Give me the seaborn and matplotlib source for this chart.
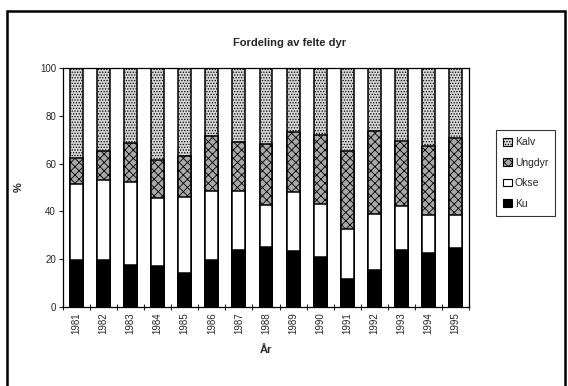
import matplotlib
matplotlib.use("Agg")
import matplotlib.pyplot as plt
import matplotlib.patches as mpatches
from matplotlib.ticker import FixedLocator
import seaborn as sns
import pandas as pd
import numpy as np

years = ["1981", "1982", "1983", "1984", "1985", "1986", "1987", "1988",
         "1989", "1990", "1991", "1992", "1993", "1994", "1995"]
ku = [19.5, 19.8, 17.5, 17.0, 14.2, 19.8, 23.7, 25.1, 23.4, 20.9, 11.7, 15.3, 23.7, 22.7, 24.7]
okse = [31.8, 33.5, 35.0, 28.5, 31.8, 28.7, 24.8, 17.4, 24.9, 22.0, 21.0, 23.7, 18.4, 15.6, 13.9]
ungdyr = [11.1, 11.9, 16.2, 16.2, 17.1, 22.9, 20.7, 25.6, 25.1, 29.2, 32.5, 34.8, 27.5, 29.0, 32.3]
kalv = [100 - a - b - c for a, b, c in zip(ku, okse, ungdyr)]

series = ["Ku", "Okse", "Ungdyr", "Kalv"]

sns.set_theme(style="white")
plt.rcParams['font.family'] = ['Liberation Sans', 'DejaVu Sans']
plt.rcParams['hatch.linewidth'] = 0.6
plt.rcParams['hatch.color'] = '#444444'

df = pd.DataFrame({"År": years, "Ku": ku, "Okse": okse, "Ungdyr": ungdyr, "Kalv": kalv})
df["c_Ku"] = df["Ku"]
df["c_Okse"] = df["c_Ku"] + df["Okse"]
df["c_Ungdyr"] = df["c_Okse"] + df["Ungdyr"]
df["c_Kalv"] = df["c_Ungdyr"] + df["Kalv"]

fig = plt.figure(figsize=(5.68, 3.86), dpi=100)
ax = fig.add_axes([63/568, 1 - 307/386, (469-63)/568, (307-68)/386])

styles = {
    "Kalv": dict(face="#d6d6d6", hatch="......"),
    "Ungdyr": dict(face="#a9a9a9", hatch="xxxx"),
    "Okse": dict(face="white", hatch=None),
    "Ku": dict(face="black", hatch=None),
}

for s in ["Kalv", "Ungdyr", "Okse", "Ku"]:
    st = styles[s]
    sns.barplot(data=df, x="År", y="c_" + s, ax=ax, color=st["face"],
                saturation=1, width=0.48, edgecolor="black", linewidth=1.1,
                hatch=st["hatch"], errorbar=None)

ax.set_ylim(0, 100)
ax.set_xlim(-0.5, len(years) - 0.5)
ax.set_yticks([0, 20, 40, 60, 80, 100])
ax.tick_params(axis="y", labelsize=7, length=3, width=0.8, direction="out", pad=2, left=True)
ax.tick_params(axis="x", labelsize=7, rotation=90, length=0, pad=4, bottom=True)
ax.xaxis.set_minor_locator(FixedLocator(np.arange(-0.5, len(years), 1)))
ax.tick_params(axis="x", which="minor", length=4, width=0.8, direction="inout", bottom=True)
for sp in ax.spines.values():
    sp.set_color("black")
    sp.set_linewidth(0.9)

ax.set_ylabel("%", fontsize=8, fontweight="bold", labelpad=12)
ax.set_xlabel("År", fontsize=8, fontweight="bold", labelpad=8)

fig.text(290/568, 1 - 43/386, "Fordeling av felte dyr", ha="center", va="center",
         fontsize=8, fontweight="bold")

handles = [mpatches.Patch(facecolor=styles[s]["face"], edgecolor="black",
                          hatch=styles[s]["hatch"], linewidth=0.8, label=s)
           for s in ["Kalv", "Ungdyr", "Okse", "Ku"]]
leg = fig.legend(handles=handles, loc="upper left",
                 bbox_to_anchor=(496/568, 1 - 130/386), fontsize=7.5,
                 frameon=True, fancybox=False, edgecolor="black",
                 handlelength=0.8, handleheight=0.8, handletextpad=0.3,
                 borderpad=0.7, labelspacing=1.0, borderaxespad=0)
leg.get_frame().set_linewidth(0.8)

frame = mpatches.Rectangle((7/568, -0.05), (565-7)/568, 1.05 - 11/386,
                           transform=fig.transFigure, fill=False,
                           edgecolor="black", linewidth=1.8)
fig.patches.append(frame)

fig.savefig("out.png", dpi=100)
